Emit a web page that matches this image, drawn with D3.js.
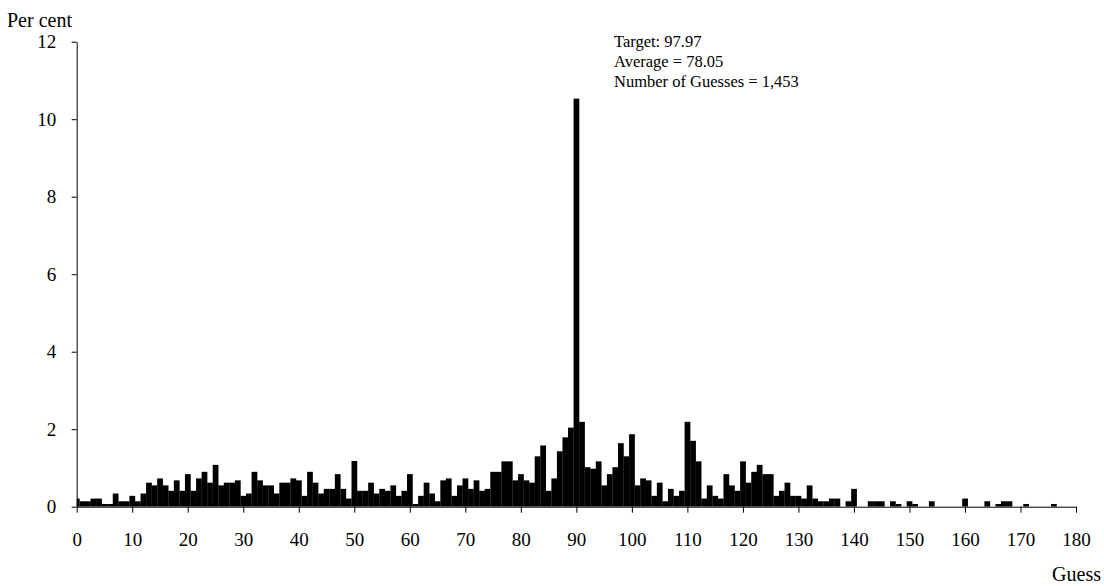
<!DOCTYPE html>
<html>
<head>
<meta charset="utf-8">
<script src="https://cdn.jsdelivr.net/npm/d3@7"></script>
<style>
  html, body { margin: 0; padding: 0; background: #fff; }
  svg { display: block; }
  text { font-family: "Liberation Serif", "Times New Roman", serif; fill: #000; }
</style>
</head>
<body>
<svg id="chart" width="1104" height="586"></svg>
<script>
// Guess values (integers) and percentage of guesses
const guesses = d3.range(0, 177);
const percents = [
  0.21, 0.14, 0.14, 0.21, 0.21, 0.07, 0.07, 0.34, 0.14, 0.14,
  0.28, 0.14, 0.34, 0.62, 0.55, 0.73, 0.55, 0.41, 0.68, 0.41,
  0.84, 0.41, 0.73, 0.90, 0.62, 1.08, 0.55, 0.62, 0.62, 0.68,
  0.28, 0.34, 0.90, 0.68, 0.55, 0.55, 0.34, 0.62, 0.62, 0.73,
  0.68, 0.28, 0.90, 0.62, 0.34, 0.46, 0.46, 0.84, 0.46, 0.21,
  1.18, 0.41, 0.41, 0.62, 0.34, 0.46, 0.41, 0.55, 0.28, 0.41,
  0.84, 0.07, 0.28, 0.62, 0.34, 0.14, 0.68, 0.73, 0.28, 0.55,
  0.73, 0.46, 0.68, 0.41, 0.46, 0.90, 0.90, 1.17, 1.17, 0.68,
  0.84, 0.68, 0.62, 1.30, 1.58, 0.41, 0.73, 1.43, 1.79, 2.04,
  10.53, 2.19, 1.02, 0.98, 1.17, 0.55, 0.84, 1.02, 1.64, 1.30,
  1.87, 0.55, 0.73, 0.68, 0.28, 0.62, 0.14, 0.46, 0.28, 0.41,
  2.19, 1.70, 1.17, 0.21, 0.55, 0.28, 0.21, 0.84, 0.55, 0.41,
  1.17, 0.62, 0.90, 1.08, 0.84, 0.84, 0.28, 0.41, 0.62, 0.28,
  0.28, 0.21, 0.55, 0.21, 0.14, 0.14, 0.21, 0.21, 0.00, 0.14,
  0.46, 0.00, 0.00, 0.14, 0.14, 0.14, 0.00, 0.14, 0.07, 0.00,
  0.14, 0.07, 0.00, 0.00, 0.14, 0.00, 0.00, 0.00, 0.00, 0.00,
  0.21, 0.00, 0.00, 0.00, 0.14, 0.00, 0.07, 0.14, 0.14, 0.00,
  0.00, 0.07, 0.00, 0.00, 0.00, 0.00, 0.07
];
const xTicks = d3.range(0, 181, 10);
const yTicks = [0, 2, 4, 6, 8, 10, 12];
const annotation = ["Target: 97.97", "Average = 78.05", "Number of Guesses = 1,453"];
const yTitle = "Per cent";
const xTitle = "Guess";

const svg = d3.select("#chart");
const plotL = 76.7, plotR = 1076, plotT = 41.7, plotB = 506.7;

const x = d3.scaleLinear().domain([0, 180]).range([plotL, plotR]);
const y = d3.scaleLinear().domain([0, 12]).range([plotB, plotT]);

svg.append("clipPath").attr("id", "plotclip")
  .append("rect").attr("x", plotL).attr("y", 0).attr("width", plotR - plotL).attr("height", plotB);

const data = guesses.map((g, i) => ({ g, v: percents[i] })).filter(d => d.v > 0);

svg.append("g").attr("clip-path", "url(#plotclip)")
  .selectAll("rect").data(data).join("rect")
  .attr("x", d => x(d.g - 0.5))
  .attr("width", d => x(d.g + 0.5) - x(d.g - 0.5) + 0.2)
  .attr("y", d => y(d.v))
  .attr("height", d => y(0) - y(d.v))
  .attr("fill", "#000");

const yAxis = svg.append("g").attr("transform", `translate(${plotL},0)`)
  .call(d3.axisLeft(y).tickValues(yTicks).tickSize(5).tickSizeOuter(0).tickPadding(15.5));
const xAxis = svg.append("g").attr("transform", `translate(0,${plotB})`)
  .call(d3.axisBottom(x).tickValues(xTicks).tickSize(6).tickSizeOuter(0).tickPadding(20));

[yAxis, xAxis].forEach(a => {
  a.selectAll("path, line").attr("stroke", "#000").attr("stroke-width", 1);
  a.selectAll("text").style("font-family", '"Liberation Serif", "Times New Roman", serif')
    .style("font-size", "19px").attr("fill", "#000");
});

svg.append("text").attr("x", 7).attr("y", 27).style("font-size", "20px").text(yTitle);
svg.append("text").attr("x", 1101).attr("y", 581).attr("text-anchor", "end")
  .style("font-size", "20px").text(xTitle);

svg.append("g").selectAll("text").data(annotation).join("text")
  .attr("x", 614)
  .attr("y", (d, i) => 47 + i * 20)
  .style("font-size", "16.5px")
  .text(d => d);
</script>
</body>
</html>
